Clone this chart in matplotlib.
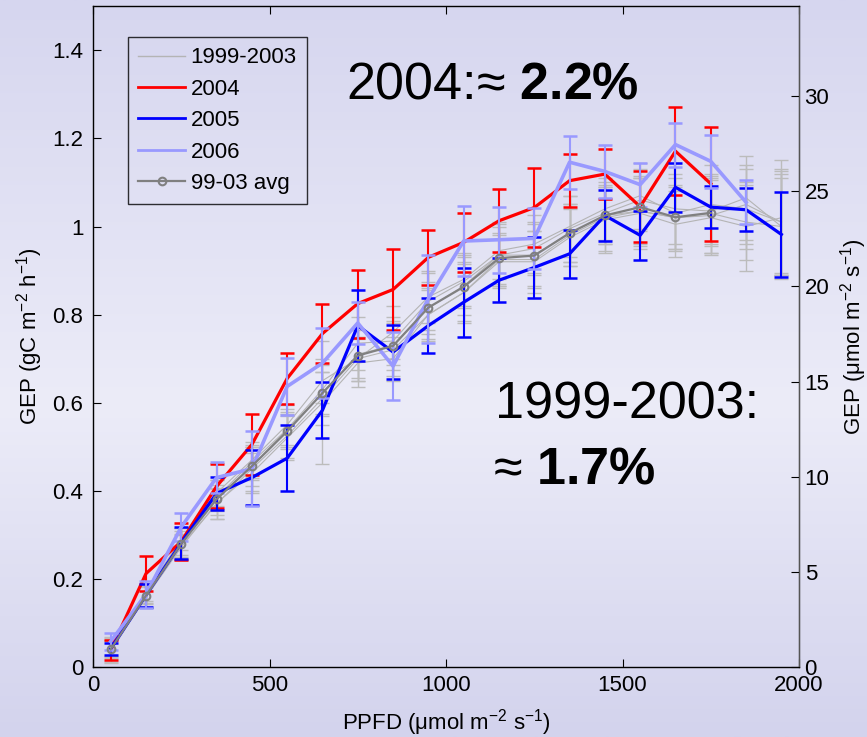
import numpy as np
import matplotlib
matplotlib.use("Agg")
import matplotlib.pyplot as plt
from matplotlib.colors import LinearSegmentedColormap
from matplotlib.lines import Line2D

plt.rcParams['font.family'] = ['Liberation Sans', 'DejaVu Sans']
plt.rcParams['mathtext.fontset'] = 'custom'
plt.rcParams['mathtext.rm'] = 'Liberation Sans'
plt.rcParams['mathtext.bf'] = 'Liberation Sans:bold'
plt.rcParams['mathtext.it'] = 'Liberation Sans:italic'
plt.rcParams['mathtext.default'] = 'regular'

# PPFD bin centres
ppfd = [50, 150, 250, 350, 450, 550, 650, 750, 850, 950,
        1050, 1150, 1250, 1350, 1450, 1550, 1650, 1750, 1850, 1950]

# individual years 1999-2003 (thin grey)
gep_1999 = [0.045, 0.170, 0.290, 0.395, 0.470, 0.550, 0.650, 0.700, 0.760, 0.840,
            0.880, 0.945, 0.960, 1.000, 1.040, 1.070, 1.030, 1.050, 1.040, 1.010]
gep_2000 = [0.038, 0.158, 0.272, 0.372, 0.440, 0.520, 0.600, 0.690, 0.700, 0.800,
            0.850, 0.920, 0.920, 0.975, 1.015, 1.030, 1.005, 1.020, 1.000, 1.020]
gep_2001 = [0.042, 0.165, 0.285, 0.385, 0.465, 0.540, 0.630, 0.735, 0.740, 0.830,
            0.875, 0.935, 0.950, 0.995, 1.030, 1.060, 1.040, 1.035, 1.065, 1.000]
gep_2002 = [0.036, 0.160, 0.275, 0.370, 0.450, 0.525, 0.610, 0.700, 0.720, 0.800,
            0.850, 0.925, 0.925, 0.980, 1.020, 1.035, 1.020, 1.030, 1.010, 1.000]
gep_2003 = [0.040, 0.162, 0.278, 0.383, 0.455, 0.540, 0.620, 0.710, 0.730, 0.815,
            0.865, 0.935, 0.935, 0.985, 1.025, 1.035, 1.020, 1.025, 1.050, 1.010]
err_1999 = [0.020, 0.020, 0.025, 0.030, 0.040, 0.045, 0.050, 0.050, 0.060, 0.060,
            0.060, 0.065, 0.065, 0.070, 0.070, 0.075, 0.080, 0.090, 0.090, 0.120]
err_2000 = [0.030, 0.025, 0.030, 0.035, 0.045, 0.050, 0.140, 0.055, 0.050, 0.055,
            0.065, 0.060, 0.070, 0.065, 0.075, 0.080, 0.075, 0.085, 0.100, 0.130]
err_2001 = [0.020, 0.020, 0.030, 0.040, 0.040, 0.045, 0.055, 0.060, 0.055, 0.065,
            0.060, 0.070, 0.060, 0.075, 0.070, 0.070, 0.080, 0.080, 0.095, 0.110]
err_2002 = [0.025, 0.025, 0.025, 0.035, 0.050, 0.050, 0.060, 0.050, 0.060, 0.060,
            0.070, 0.060, 0.065, 0.070, 0.075, 0.075, 0.070, 0.090, 0.085, 0.120]
err_2003 = [0.020, 0.020, 0.030, 0.030, 0.045, 0.040, 0.050, 0.055, 0.055, 0.060,
            0.065, 0.065, 0.070, 0.065, 0.065, 0.080, 0.075, 0.085, 0.090, 0.115]

gep_2004 = [0.038, 0.212, 0.285, 0.410, 0.505, 0.655, 0.757, 0.825, 0.857, 0.930,
            0.964, 1.013, 1.043, 1.104, 1.119, 1.045, 1.171, 1.097]
err_2004 = [0.023, 0.040, 0.043, 0.050, 0.070, 0.058, 0.068, 0.077, 0.093, 0.062,
            0.067, 0.072, 0.090, 0.060, 0.056, 0.080, 0.100, 0.130]

gep_2005 = [0.041, 0.163, 0.282, 0.394, 0.430, 0.474, 0.583, 0.775, 0.715, 0.775,
            0.828, 0.878, 0.907, 0.938, 1.025, 0.980, 1.089, 1.044, 1.038, 0.982]
err_2005 = [0.013, 0.026, 0.036, 0.037, 0.062, 0.075, 0.064, 0.080, 0.062, 0.062,
            0.078, 0.050, 0.070, 0.054, 0.057, 0.056, 0.055, 0.047, 0.049, 0.096]

gep_2006 = [0.058, 0.165, 0.318, 0.430, 0.450, 0.637, 0.690, 0.781, 0.683, 0.836,
            0.967, 0.970, 0.973, 1.146, 1.125, 1.095, 1.186, 1.148, 1.055]
err_2006 = [0.020, 0.030, 0.032, 0.036, 0.085, 0.065, 0.080, 0.048, 0.077, 0.100,
            0.080, 0.075, 0.070, 0.060, 0.060, 0.050, 0.050, 0.060, 0.050]

gep_avg = [0.040, 0.162, 0.280, 0.381, 0.456, 0.535, 0.622, 0.707, 0.729, 0.816,
           0.863, 0.928, 0.934, 0.985, 1.025, 1.044, 1.021, 1.031]

legend_labels = ['1999-2003', '2004', '2005', '2006', '99-03 avg']

# 1 gC m-2 h-1 in umol m-2 s-1
GC_TO_UMOL = 1e6 / 12.0 / 3600.0


def draw_background(fig):
    bg = fig.add_axes([0, 0, 1, 1], zorder=-10)
    cmap = LinearSegmentedColormap.from_list(
        'slide', [(0.0, '#d6d6ef'), (0.55, '#ececf8'), (1.0, '#d3d3ed')])
    grad = np.linspace(0, 1, 256).reshape(-1, 1)
    bg.imshow(grad, aspect='auto', cmap=cmap, extent=[0, 1, 0, 1], origin='upper')
    bg.set_axis_off()


def draw_chart():
    fig = plt.figure(figsize=(8.67, 7.37), dpi=100)
    draw_background(fig)

    ax = fig.add_axes([0.1073, 0.095, 0.8143, 0.8965])
    ax.set_facecolor('none')

    grey_years = [(gep_1999, err_1999), (gep_2000, err_2000), (gep_2001, err_2001),
                  (gep_2002, err_2002), (gep_2003, err_2003)]
    for vals, errs in grey_years:
        ax.errorbar(ppfd[:len(vals)], vals, yerr=errs, color='#b4b4b4', lw=0.8,
                    elinewidth=1.0, ecolor='#bcbcbc', capsize=4.7, capthick=1.0,
                    zorder=2)

    ax.errorbar(ppfd[:len(gep_2004)], gep_2004, yerr=err_2004, color='#ff0000',
                lw=2.3, elinewidth=1.5, capsize=4.7, capthick=1.8, zorder=3)
    ax.errorbar(ppfd[:len(gep_2005)], gep_2005, yerr=err_2005, color='#0000ff',
                lw=2.3, elinewidth=1.5, capsize=4.7, capthick=1.8, zorder=4)
    ax.errorbar(ppfd[:len(gep_2006)], gep_2006, yerr=err_2006, color='#9999ff',
                lw=2.6, elinewidth=1.5, capsize=4.7, capthick=1.8, zorder=5)
    ax.plot(ppfd[:len(gep_avg)], gep_avg, color='#808080', lw=1.6, marker='o',
            ms=5.5, mfc='none', mec='#808080', mew=1.5, zorder=6)

    ax.set_xlim(0, 2000)
    ax.set_ylim(0, 1.5)
    ax.set_xticks([0, 500, 1000, 1500, 2000])
    ax.set_yticks([0, 0.2, 0.4, 0.6, 0.8, 1.0, 1.2, 1.4])
    ax.set_yticklabels(['0', '0.2', '0.4', '0.6', '0.8', '1', '1.2', '1.4'])
    ax.tick_params(axis='x', direction='in', top=True, length=6, labelsize=16, pad=6)
    ax.tick_params(axis='y', direction='in', right=False, length=6, labelsize=16, pad=7)
    for s in ax.spines.values():
        s.set_color('#333333')
        s.set_linewidth(1.0)

    ax.set_xlabel('PPFD (μmol m$^{-2}$ s$^{-1}$)', fontsize=16, labelpad=8)
    ax.set_ylabel('GEP (gC m$^{-2}$ h$^{-1}$)', fontsize=16, labelpad=5)

    ax2 = ax.twinx()
    ax2.set_ylim(0, 1.5 * GC_TO_UMOL)
    ax2.set_yticks([0, 5, 10, 15, 20, 25, 30])
    ax2.tick_params(axis='y', direction='in', length=6, labelsize=16, pad=4)
    ax2.spines['right'].set_color('#555555')
    ax2.set_ylabel('GEP (μmol m$^{-2}$ s$^{-1}$)', fontsize=16, labelpad=6)

    handles = [
        Line2D([], [], color='#b4b4b4', lw=1.0),
        Line2D([], [], color='#ff0000', lw=2.0),
        Line2D([], [], color='#0000ff', lw=2.0),
        Line2D([], [], color='#9999ff', lw=2.0),
        Line2D([], [], color='#808080', lw=1.6, marker='o', ms=5.5,
               mfc='none', mec='#808080', mew=1.5),
    ]
    leg = ax.legend(handles, legend_labels, loc='upper left',
                    bbox_to_anchor=(0.05, 0.953), borderaxespad=0,
                    fontsize=16, handlelength=2.1, handletextpad=0.25,
                    labelspacing=0.47, borderpad=0.45, fancybox=False, frameon=True)
    leg.get_frame().set_edgecolor('black')
    leg.get_frame().set_linewidth(1.0)
    leg.get_frame().set_facecolor('none')

    ax.text(716, 1.290, '2004:≈ $\\mathbf{2.2\\%}$', fontsize=37.5, zorder=10)
    ax.text(1140, 0.565, '1999-2003:', fontsize=37.5, zorder=10)
    ax.text(1132, 0.417, '≈ $\\mathbf{1.7\\%}$', fontsize=37.5, zorder=10)

    fig.savefig('out.png', dpi=100)


def main():
    draw_chart()


if __name__ == "__main__":
    main()
